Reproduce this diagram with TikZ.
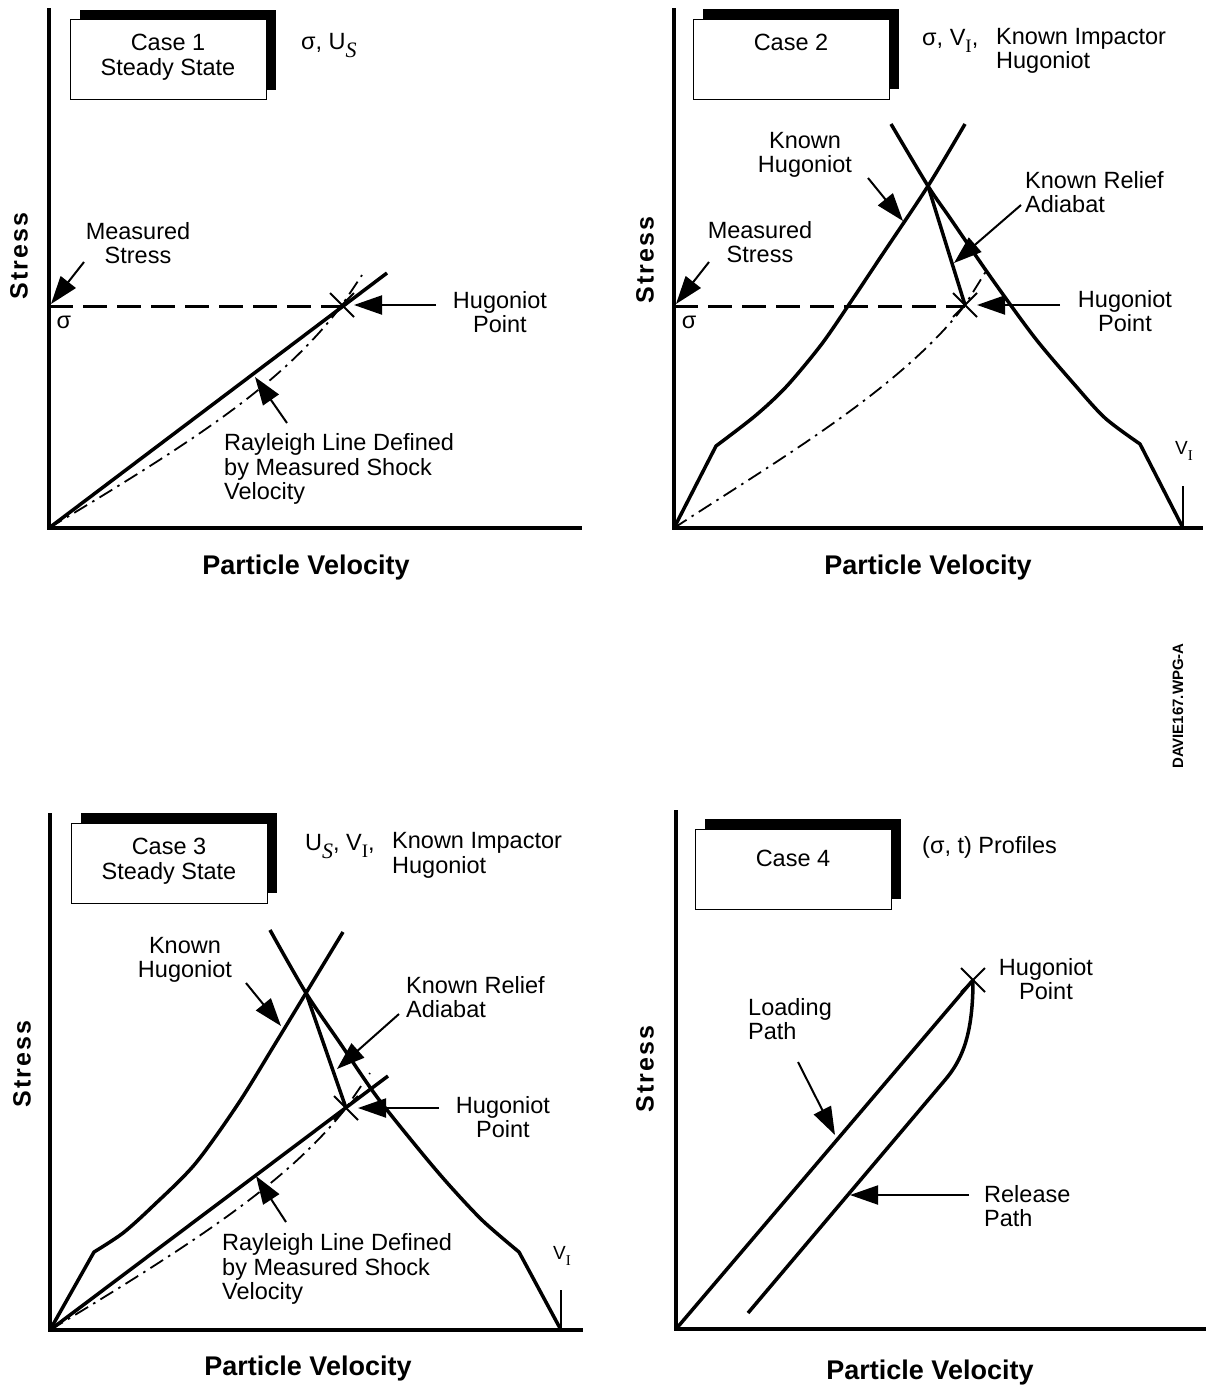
\documentclass[tikz,border=0pt]{standalone}
\usepackage{fontspec}
\setmainfont{Liberation Sans}
\newfontfamily\subfont{Liberation Serif}
\newcommand{\lowsub}[2][19]{{\subfont\fontsize{#1}{#1}\selectfont\raisebox{-0.38em}{#2}}}
\usetikzlibrary{arrows.meta,positioning,shapes.misc,shadows}
\tikzset{
 axis/.style={line width=4pt,line join=miter},
 curve/.style={line width=3.5pt,line join=round},
 sigline/.style={line width=3pt,dash pattern=on 24pt off 10pt},
 dashdot/.style={line width=1.8pt,dash pattern=on 15pt off 6pt on 2.5pt off 6pt},
 pointer/.style={line width=2pt,-{Triangle[length=28pt,width=19pt]}},
 hugmark/.style={cross out,draw,line width=2pt,minimum size=22pt,inner sep=0pt},
 casebox/.style={draw,fill=white,line width=1pt,minimum width=196pt,minimum height=80pt,
  drop shadow={shadow xshift=10pt,shadow yshift=10pt,opacity=1,fill=black}},
 lbl/.style={inner sep=0pt,font=\fontsize{23.5}{24.5}\selectfont},
 axlbl/.style={inner sep=0pt,font=\bfseries\fontsize{27}{30}\selectfont},
 stresslbl/.style={inner sep=0pt,rotate=90,font=\bfseries\fontsize{25}{28}\selectfont\addfontfeature{LetterSpace=8}},
 vlbl/.style={inner sep=0pt,font=\fontsize{19}{22}\selectfont},
 vtick/.style={line width=2pt}
}
\begin{document}
\begin{tikzpicture}[x=1pt,y=-1pt]
\useasboundingbox (0,0) rectangle (1209,1395);

\draw[axis] (49,8) -- (49,528) -- (582,528);
\node[casebox] (box1) at (168,59.5) {};
\node[lbl,align=center,below=15pt of box1.north] (case1) {Case 1\\Steady State};
\node[lbl,anchor=base west] (given1) at (301,49) {σ, U\lowsub[22]{\itshape S}};
\node[lbl,align=center] (meas1) at (138,243) {Measured\\Stress};
\node[lbl] (sig1) at (64,322) {σ};
\draw[sigline] (49,306) -- (342,306);
\draw[dashdot] (49,528) .. controls (199,438) and (283,383) .. (342,305) -- (362,275);
\draw[curve] (49,528) -- (387,273);
\node[hugmark] (hug1) at (342,305) {};
\node[lbl,align=center] (hugtxt1) at (500,312) {Hugoniot\\Point};
\coordinate (hugtail1) at (436,305);
\draw[pointer] (hugtail1) -- (hug1);
\coordinate (meastail1) at (84,262);
\coordinate (meastip1) at (51,304);
\draw[pointer] (meastail1) -- (meastip1);
\coordinate (raytail1) at (287,423);
\coordinate (raytip1) at (255,377);
\draw[pointer] (raytail1) -- (raytip1);
\node[lbl,align=left,anchor=west] (ray1) at (224,469) {Rayleigh Line Defined\\by Measured Shock\\Velocity};
\node[axlbl] (pv1) at (306,568) {Particle Velocity};
\node[stresslbl] (st1) at (19,256) {Stress};

\draw[axis] (674,8) -- (674,528) -- (1203,528);
\node[casebox] (box2) at (791,59.3) {};
\node[lbl,below=15pt of box2.north] (case2) {Case 2};
\node[lbl,anchor=base west] (given2) at (922,45) {σ, V\lowsub{I},};
\node[lbl,align=left,anchor=west] (impactor2) at (996,51) {Known Impactor\\Hugoniot};
\node[lbl,align=center] (meas2) at (760,242) {Measured\\Stress};
\node[lbl] (sig2) at (689,322) {σ};
\draw[sigline] (674,306) -- (965,306);
\draw[dashdot] (674,528) .. controls (770,465) and (900,390) .. (965,305) -- (988,268);
\draw[curve] (674,528) -- plot[smooth] coordinates {(716,446) (755,416) (786,387) (821,345) (850,303) (880,258) (928,186) (965,124)};
\draw[curve] (1183,528) -- plot[smooth] coordinates {(1140,444) (1105,418) (1074,384) (1035,338) (992,279) (950,218) (928,186) (891,124)};
\coordinate (top2) at (928,186);
\node[hugmark] (hug2) at (965,305) {};
\draw[curve] (top2) -- (hug2.center);
\node[lbl,align=center] (known2) at (805,155) {Known\\Hugoniot};
\coordinate (knowntail2) at (868,178);
\coordinate (knowntip2) at (903,221);
\draw[pointer] (knowntail2) -- (knowntip2);
\node[lbl,align=left,anchor=west] (relief2) at (1025,192) {Known Relief\\Adiabat};
\coordinate (relieftail2) at (1021,205);
\coordinate (relieftip2) at (954,263);
\draw[pointer] (relieftail2) -- (relieftip2);
\node[lbl,align=center] (hugtxt2) at (1125,311) {Hugoniot\\Point};
\coordinate (hugtail2) at (1060,305);
\draw[pointer] (hugtail2) -- (hug2);
\coordinate (meastail2) at (709,262);
\coordinate (meastip2) at (676,304);
\draw[pointer] (meastail2) -- (meastip2);
\node[vlbl] (vi2) at (1184,451) {V\lowsub[15]{I}};
\coordinate (vitop2) at (1183,486);
\draw[vtick] (vitop2) -- (1183,528);
\node[axlbl] (pv2) at (928,568) {Particle Velocity};
\node[stresslbl] (st2) at (645,260) {Stress};

\draw[axis] (50,813) -- (50,1330) -- (583,1330);
\node[casebox] (box3) at (169,863.4) {};
\node[lbl,align=center,below=15pt of box3.north] (case3) {Case 3\\Steady State};
\node[lbl,anchor=base west] (given3) at (305,850) {U\lowsub[22]{\itshape S}, V\lowsub{I},};
\node[lbl,align=left,anchor=west] (impactor3) at (392,855.5) {Known Impactor\\Hugoniot};
\draw[dashdot] (50,1330) .. controls (203,1238) and (290,1179) .. (346,1108) -- (370,1073);
\draw[curve] (50,1330) -- (388,1076);
\draw[curve] (50,1330) -- plot[smooth] coordinates {(94,1252) (123,1233) (153,1206) (195,1164) (238,1104) (275,1044) (306,993) (343,932)};
\draw[curve] (561,1330) -- plot[smooth] coordinates {(519,1252) (483,1221) (450,1186) (421,1152) (377,1097) (340,1043) (306,993) (270,930)};
\coordinate (top3) at (306,993);
\node[hugmark] (hug3) at (346,1108) {};
\draw[curve] (top3) -- (hug3.center);
\node[lbl,align=center] (known3) at (185,960) {Known\\Hugoniot};
\coordinate (knowntail3) at (246,983);
\coordinate (knowntip3) at (281,1026);
\draw[pointer] (knowntail3) -- (knowntip3);
\node[lbl,align=left,anchor=west] (relief3) at (406,997) {Known Relief\\Adiabat};
\coordinate (relieftail3) at (399,1014);
\coordinate (relieftip3) at (337,1069);
\draw[pointer] (relieftail3) -- (relieftip3);
\node[lbl,align=center] (hugtxt3) at (503,1117) {Hugoniot\\Point};
\coordinate (hugtail3) at (439,1108);
\draw[pointer] (hugtail3) -- (hug3);
\coordinate (raytail3) at (286,1222);
\coordinate (raytip3) at (256,1176);
\draw[pointer] (raytail3) -- (raytip3);
\node[lbl,align=left,anchor=west] (ray3) at (222,1269) {Rayleigh Line Defined\\by Measured Shock\\Velocity};
\node[vlbl] (vi3) at (562,1256) {V\lowsub[15]{I}};
\coordinate (vitop3) at (561,1290);
\draw[vtick] (vitop3) -- (561,1330);
\node[axlbl] (pv3) at (308,1369) {Particle Velocity};
\node[stresslbl] (st3) at (22,1064) {Stress};

\draw[axis] (676,810) -- (676,1329) -- (1206,1329);
\node[casebox] (box4) at (793,869) {};
\node[lbl,below=21pt of box4.north] (case4) {Case 4};
\node[lbl,anchor=base west] (given4) at (922,853) {(σ, t) Profiles};
\node[hugmark] (hug4) at (973,980) {};
\draw[curve] (676,1329) -- (hug4.center);
\draw[curve] (hug4.center) .. controls (973,1035) and (962,1060) .. (945,1080) -- (748,1313);
\node[lbl,align=center] (hugtxt4) at (1046,979) {Hugoniot\\Point};
\node[lbl,align=left,anchor=west] (load4) at (748,1019) {Loading\\Path};
\coordinate (loadtail4) at (798,1062);
\coordinate (loadtip4) at (835,1135);
\draw[pointer] (loadtail4) -- (loadtip4);
\node[lbl,align=left,anchor=west] (release4) at (984,1206) {Release\\Path};
\coordinate (releasetail4) at (969,1195);
\coordinate (releasetip4) at (850,1195);
\draw[pointer] (releasetail4) -- (releasetip4);
\node[axlbl] (pv4) at (930,1373) {Particle Velocity};
\node[stresslbl] (st4) at (645,1069) {Stress};

\node[inner sep=0pt,rotate=90,font=\bfseries\fontsize{15}{18}\selectfont] (fileid) at (1178,706) {DAVIE167.WPG-A};
\end{tikzpicture}
\end{document}
